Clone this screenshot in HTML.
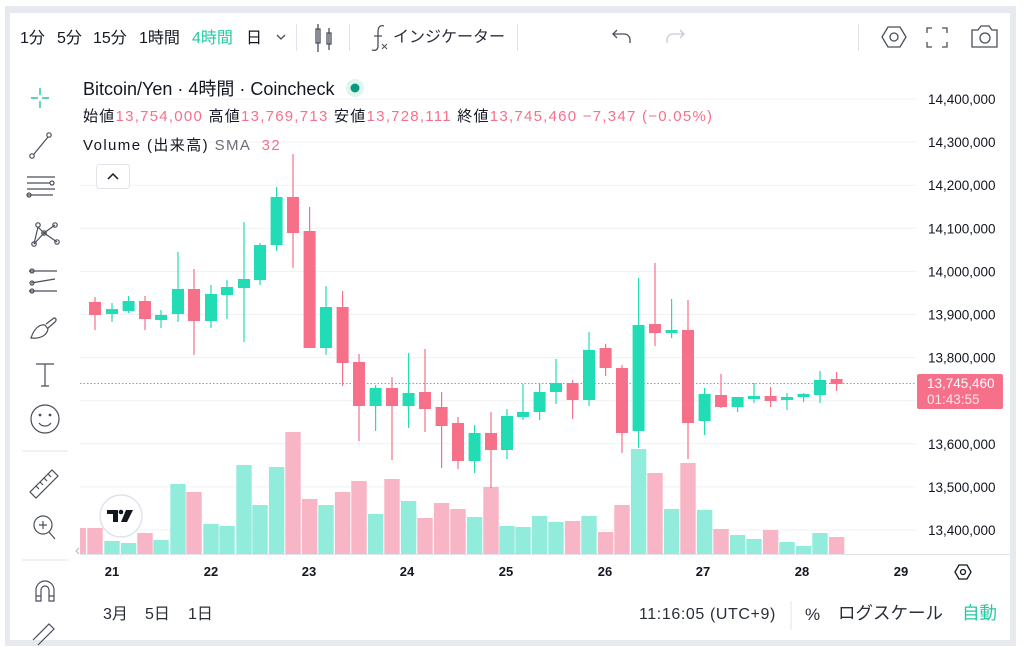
<!DOCTYPE html>
<html><head><meta charset="utf-8"><style>
*{margin:0;padding:0;box-sizing:border-box}
body{width:1024px;height:652px;background:#fff;position:relative;overflow:hidden;font-family:"Liberation Sans","Noto Sans CJK JP",sans-serif;color:#131722}
.frame{position:absolute;left:5px;top:6px;width:1011px;height:640px;background:#e6e9ee}
.panel{position:absolute;left:10px;top:13px;width:1000px;height:627px;background:#fff}
.t{position:absolute;white-space:nowrap;line-height:1}
.sep{position:absolute;background:#e0e3eb}
</style></head><body>
<div class="frame"></div><div class="panel"></div>
<!-- top toolbar -->
<div class="t" style="left:20px;top:31px;font-size:16px">1分</div>
<div class="t" style="left:57px;top:31px;font-size:16px">5分</div>
<div class="t" style="left:93px;top:31px;font-size:16px">15分</div>
<div class="t" style="left:139px;top:31px;font-size:16px">1時間</div>
<div class="t" style="left:192px;top:31px;font-size:16px;color:#22c9a3">4時間</div>
<div class="t" style="left:246px;top:31px;font-size:16px">日</div>
<div class="sep" style="left:296px;top:24px;width:1px;height:27px"></div>
<div class="sep" style="left:349px;top:24px;width:1px;height:27px"></div>
<div class="t" style="left:393px;top:30px;font-size:16px;color:#2a2e39">インジケーター</div>
<div class="sep" style="left:517px;top:24px;width:1px;height:27px"></div>
<div class="sep" style="left:858px;top:24px;width:1px;height:27px"></div>
<svg style="position:absolute;left:0;top:0" width="1024" height="652">
<g fill="none" stroke="#4a4e59" stroke-width="1.3">
<path d="M277 35l4 4 4-4"/>
<path d="M318 24v28M316 29h4v14h-4z M329 28v22M327 33h4v11h-4z"/>
<path d="M378 32c0-6 3-7 6-6M378 32v14c0 4-3 5-6 4M374 36h8"/>
<path d="M382 44l5 5M387 44l-5 5" stroke-width="1"/>
<path d="M617 38l-4-4 4-4M613 34h11c4 0 6 3 6 6v3"/>
<path d="M680 38l4-4-4-4M684 34h-11c-4 0-6 3-6 6v3" stroke="#c8cbd3"/>
<path d="M882 37l6-10h12l6 10-6 10h-12z"/><circle cx="894" cy="37" r="4"/>
<path d="M927 33v-5h5M942 28h5v5M947 42v5h-5M932 47h-5v-5"/>
<path d="M972 30h6l3-4h8l3 4h5v17h-25z"/><circle cx="985" cy="38" r="5"/>
</g>
<!-- left toolbar -->
<g fill="none" stroke="#4a4e59" stroke-width="1.2">
<path d="M40 88v7M40 101v7M31 98h7M42 98h7" stroke="#22c9a3" stroke-width="1.4"/>
<path d="M34 154l14-17"/><circle cx="32" cy="156" r="2.2"/><circle cx="49" cy="135" r="2.2"/>
<path d="M27 177h28M27 183h23M27 189h28M27 195h26"/><circle cx="52" cy="183" r="2"/><circle cx="29" cy="195" r="2"/>
<circle cx="38" cy="225" r="2.2"/><circle cx="55" cy="225" r="2.2"/><circle cx="44" cy="233" r="2.2"/><circle cx="34" cy="244" r="2.2"/><circle cx="57" cy="242" r="2.2"/>
<path d="M38 227l6 6 11-8M44 233l-10 11M44 233l13 9M38 227l-4 17"/>
<path d="M29 271h28M29 291h28M31 283l24-4" /><circle cx="32" cy="271" r="2"/><circle cx="32" cy="283" r="2"/><circle cx="32" cy="291" r="2"/>
<path d="M31 338c3-9 8-14 14-13l3 4c-1 6-7 10-17 9zM46 324l8-6c2 0 3 2 1 4l-7 6"/>
<path d="M36 364h18M45 364v22M41 386h8"/>
<circle cx="45" cy="419" r="14"/><circle cx="40" cy="415" r="0.8" fill="#4a4e59"/><circle cx="50" cy="415" r="0.8" fill="#4a4e59"/><path d="M39 423c3 4 9 4 12 0"/>
<path d="M30 492l22-22 6 6-22 22zM36 486l3 3M40 482l3 3M44 478l3 3M48 474l3 3"/>
<circle cx="43" cy="525" r="9"/><path d="M49 532l6 7M43 521v8M39 525h8"/>
<path d="M36 601v-11a9 9 0 0118 0v11h-5v-11a4 4 0 00-8 0v11zM36 596h5M49 596h5"/>
<path d="M33 640l16-16 5 5-16 16"/>
</g>
<line x1="22" y1="451" x2="68" y2="451" stroke="#e0e3eb"/>
<line x1="22" y1="560" x2="68" y2="560" stroke="#e0e3eb"/>
<!-- grid -->
<g stroke="#f0f1f4" stroke-width="1" id="grid"></g>
<line x1="80" y1="554.5" x2="1010" y2="554.5" stroke="#e0e3eb"/>
<line x1="80" y1="383.5" x2="916" y2="383.5" stroke="#f6708a" stroke-dasharray="1.5 2" stroke-width="1"/>
<g id="vol"></g><g id="cdl"></g>
<rect x="917" y="374" width="86" height="35" rx="2" fill="#f6708a"/>
<text x="927" y="388" font-size="13.5" fill="#fff" font-family="Liberation Sans">13,745,460</text>
<text x="927" y="404" font-size="13.5" fill="#fde6eb" font-family="Liberation Sans">01:43:55</text>
<g font-size="13.5" fill="#131722" font-family="Liberation Sans" id="pl"></g>
<g font-size="13" font-weight="bold" fill="#131722" font-family="Liberation Sans" text-anchor="middle">
<text x="112" y="576">21</text><text x="211" y="576">22</text><text x="309" y="576">23</text><text x="407" y="576">24</text><text x="506" y="576">25</text><text x="605" y="576">26</text><text x="703" y="576">27</text><text x="802" y="576">28</text><text x="901" y="576">29</text>
</g>
<path d="M955 572l4-7h8l4 7-4 7h-8z" fill="none" stroke="#131722" stroke-width="1.3"/><circle cx="963" cy="572" r="2.5" fill="none" stroke="#131722" stroke-width="1.3"/>
<path d="M79 548l-3 3 3 3" fill="none" stroke="#b2b5be"/>
<circle cx="121" cy="516" r="21" fill="#fff" stroke="#e0e3eb" stroke-width="1.5"/>
<path d="M107 510h11v12h-5v-8h-6z" fill="#131722"/><circle cx="121" cy="512" r="2.3" fill="#131722"/><path d="M126 510h7l-6 12h-6z" fill="#131722"/>
<circle cx="355" cy="88" r="9" fill="#dff5ef"/><circle cx="355" cy="88" r="4.5" fill="#089981"/>
<rect x="96.5" y="164.5" width="33" height="24" rx="3" fill="#fff" stroke="#e0e3eb"/>
<path d="M108 179l5-5 5 5" fill="none" stroke="#131722" stroke-width="1.5"/>
<line x1="791" y1="601" x2="791" y2="630" stroke="#e0e3eb"/>
</svg>
<!-- legend -->
<div class="t" style="left:83px;top:80px;font-size:18px">Bitcoin/Yen · 4時間 · Coincheck</div>
<div class="t" style="left:83px;top:109px;font-size:15px;letter-spacing:1.25px">始値<span style="color:#f6708a">13,754,000</span> 高値<span style="color:#f6708a">13,769,713</span> 安値<span style="color:#f6708a">13,728,111</span> 終値<span style="color:#f6708a">13,745,460 −7,347 (−0.05%)</span></div>
<div class="t" style="left:83px;top:138px;font-size:15px;letter-spacing:1.4px">Volume (出来高) <span style="color:#6a6d78">SMA</span> <span style="color:#f6708a">&nbsp;32</span></div>
<!-- bottom bar -->
<div class="t" style="left:103px;top:607px;font-size:16px;color:#2a2e39">3月</div>
<div class="t" style="left:145px;top:607px;font-size:16px;color:#2a2e39">5日</div>
<div class="t" style="left:188px;top:607px;font-size:16px;color:#2a2e39">1日</div>
<div class="t" style="left:639px;top:607px;font-size:16px;letter-spacing:0.6px;color:#2a2e39">11:16:05 (UTC+9)</div>
<div class="t" style="left:805px;top:606px;font-size:17px;color:#2a2e39">%</div>
<div class="t" style="left:838px;top:605px;font-size:17.5px;color:#2a2e39">ログスケール</div>
<div class="t" style="left:962px;top:605px;font-size:17.5px;color:#22c9a3">自動</div>
<script>
var G="#22dcb5",R="#f6708a",VG="#92ecdb",VR="#f8b5c5";
var d=[[95,302,315,297,330,0,528],[112,309,314,303,322,1,541],[128.6,301,311,296,313,1,543],[145,301,319,296,330,0,533],[161,315,320,310,328,1,540],[178,289,314,252,322,1,484],[194,289,321,269,355,0,492],[211,294,321,285,328,1,524],[227,287,295,280,319,1,526],[244,279,288,222,342,1,465],[260,245,280,243,285,1,505],[276.6,197,245,187,251,1,467],[293,197,233,154,268,0,432],[309.6,231,348,207,348,0,499],[326,307,348,286,355,1,505],[342.6,307,363,291,386,0,492],[359,362,406,354,441,0,481],[375.6,388,406,385,431,1,514],[392,388,406,377,460,0,479],[408.6,393,406,353,428,1,501],[425,392,409,349,432,0,518],[441.6,407,426,392,468,0,503],[458,423,461,417,469,0,509],[474.6,433,461,425,473,1,517],[491,433,450,412,488,0,487],[507,416,450,409,459,1,526],[523,412,417,384,420,1,527],[539.6,392,412,383,420,1,516],[556,383,392,359,404,1,522],[572.6,383,400,380,419,0,521],[589,350,400,332,406,1,516],[605.6,348,368,344,376,0,532],[622,368,433,365,453,0,505],[638.6,325,431,278,448,1,449],[655,324,333,263,346,0,473],[671.6,330,333,299,338,1,509],[688,330,423,300,459,0,463],[704.6,394,421,388,435,1,510],[721,395,407,374,408,0,529],[737.6,397,407,397,412,1,535],[754,396,399,383,403,1,539],[770.6,396,401,387,407,0,530],[787,397,400,393,410,1,542],[803.6,394,397,393,402,1,546],[820,380,395,371,403,1,533],[836.6,379,384,372,391,0,537]];
var v="",c="";
v+='<rect x="80" y="528" width="6" height="26" fill="'+VR+'"/>';
d.forEach(function(a){var col=a[5]?G:R,vc=a[5]?VG:VR;
v+='<rect x="'+(a[0]-7.7)+'" y="'+a[6]+'" width="15.4" height="'+(554-a[6])+'" fill="'+vc+'"/>';
c+='<rect x="'+(a[0]-0.6)+'" y="'+a[3]+'" width="1.2" height="'+(a[4]-a[3])+'" fill="'+col+'"/>';
c+='<rect x="'+(a[0]-6)+'" y="'+a[1]+'" width="12" height="'+Math.max(2,a[2]-a[1])+'" fill="'+col+'"/>';});
document.getElementById('vol').innerHTML=v;document.getElementById('cdl').innerHTML=c;
var g="",p="";for(var i=0;i<11;i++){var y=99+i*43.1;g+='<line x1="80" y1="'+y.toFixed(1)+'" x2="916" y2="'+y.toFixed(1)+'"/>';
var val=(14400000-i*100000).toString().replace(/\B(?=(\d{3})+(?!\d))/g,",");
if(i!=7)p+='<text x="928" y="'+(y+5).toFixed(1)+'">'+val+'</text>';}
document.getElementById('grid').innerHTML=g;document.getElementById('pl').innerHTML=p;
</script>
</body></html>
